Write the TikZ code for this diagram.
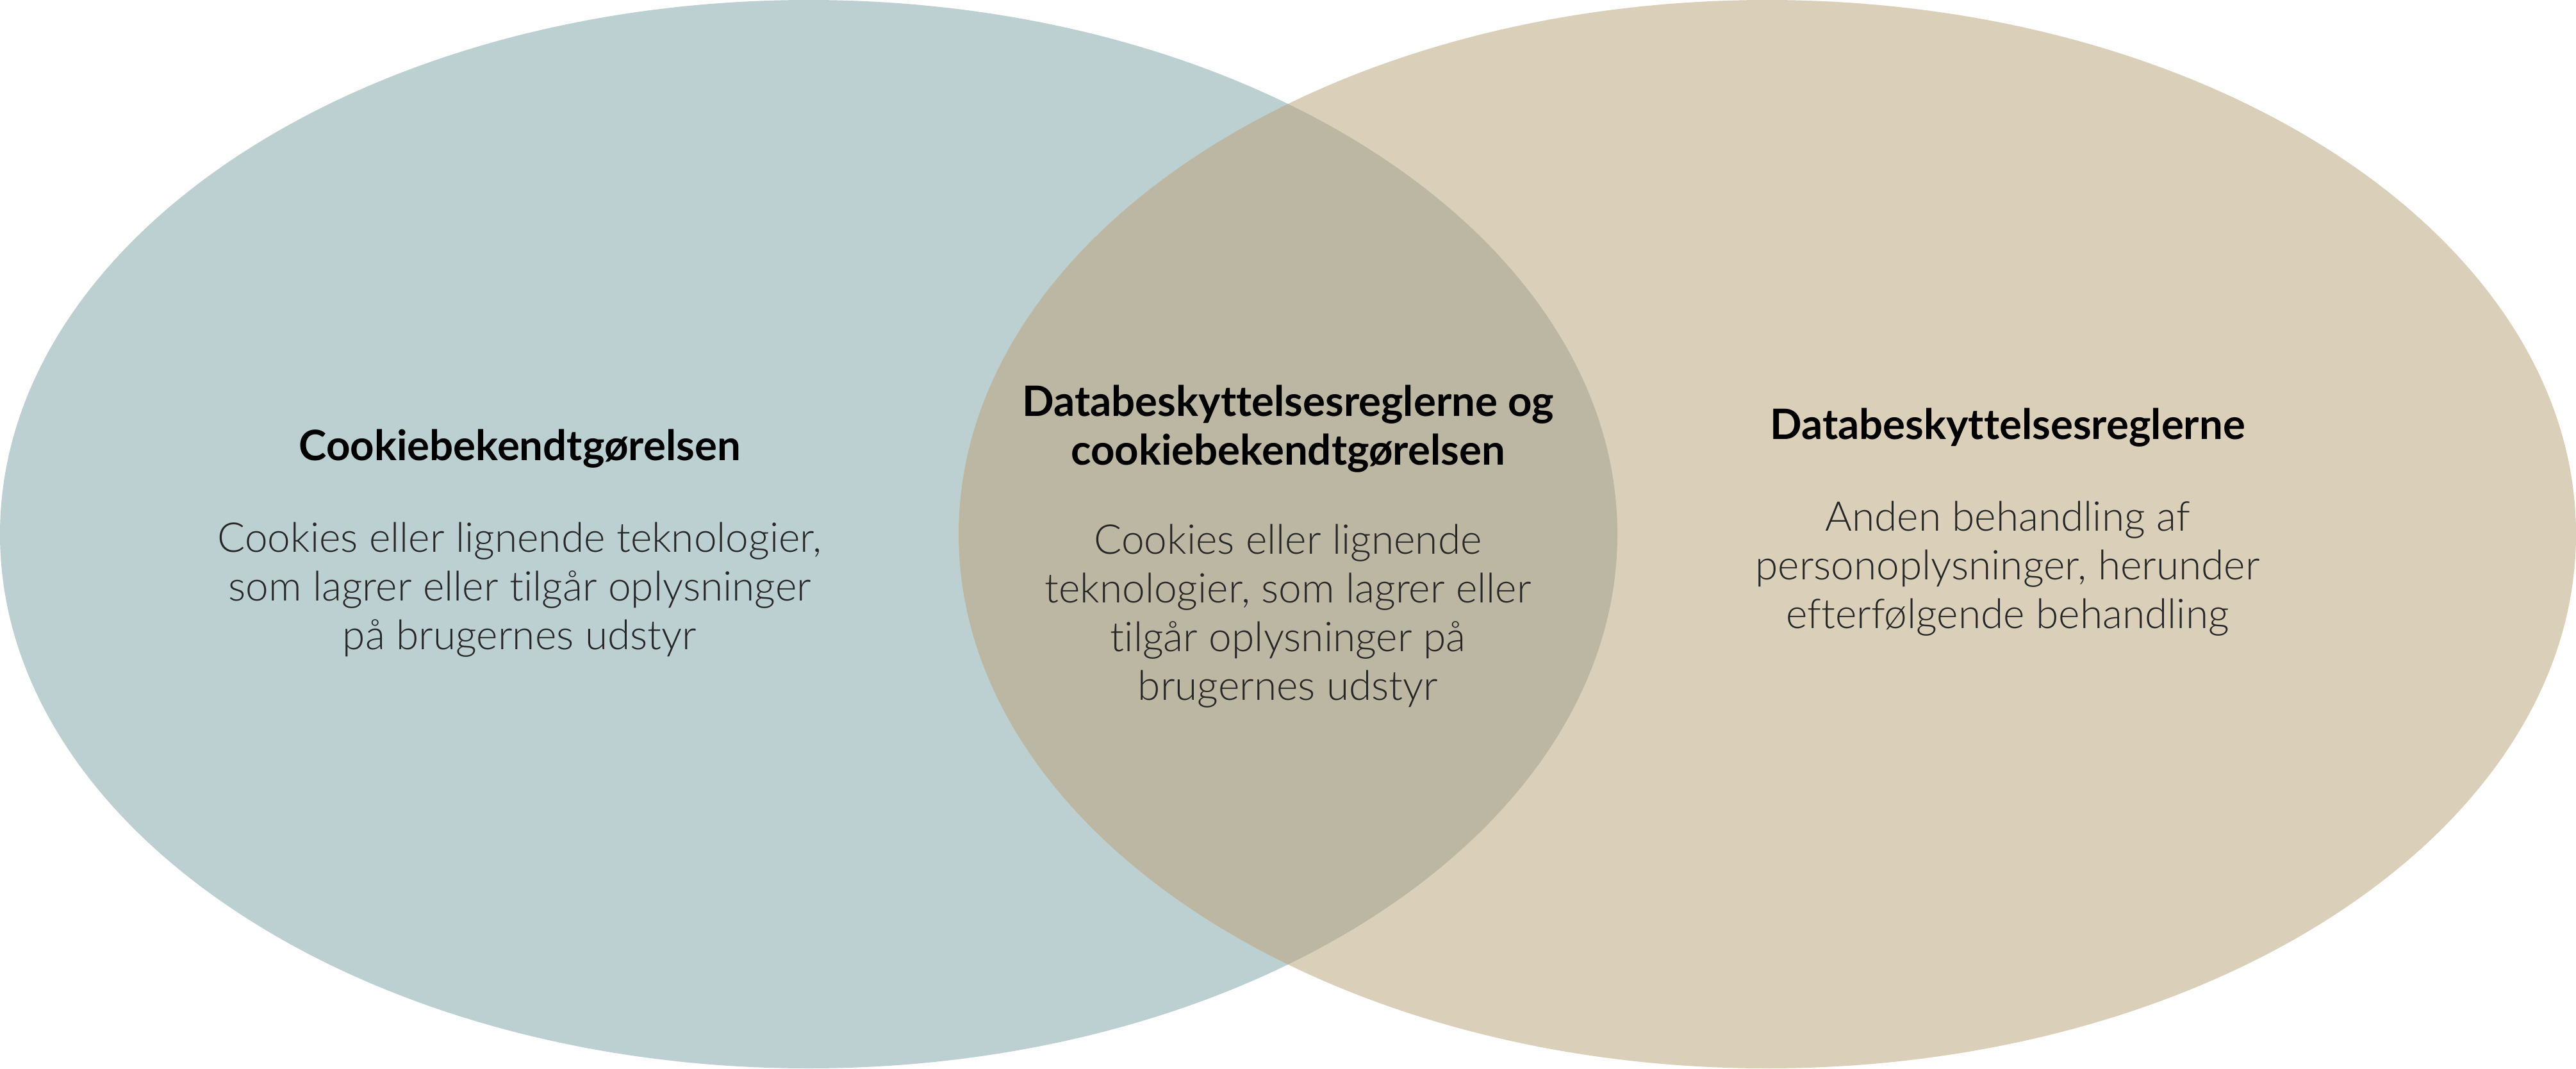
\documentclass[tikz,border=0pt]{standalone}
\usepackage{fontspec}
\IfFontExistsTF{Lato Light}
  {\setmainfont{Lato}[UprightFont={* Light}, BoldFont={* Bold}, Ligatures=NoCommon]}
  {\IfFontExistsTF{Fira Sans Light}
    {\setmainfont{Fira Sans}[UprightFont={* Light}, BoldFont={* Bold}]}
    {\setmainfont{Lato}}}
\definecolor{cookieblue}{HTML}{BCD0D1}
\definecolor{gdprsand}{HTML}{DAD0BA}
\definecolor{overlap}{HTML}{BBB7A2}
\begin{document}
\begin{tikzpicture}
    \tikzstyle{head}=[align=center,font=\bfseries\fontsize{18.6}{21.6}\selectfont]
    \tikzstyle{body}=[align=center,text=black!85,font=\fontsize{18.2}{21.6}\selectfont]
    \useasboundingbox (0,0) rectangle (40.2,16.67);
    % the two sets
    \fill[cookieblue] (12.62,8.335) ellipse [x radius=12.62, y radius=8.335];
    \fill[gdprsand] (27.58,8.335) ellipse [x radius=12.62, y radius=8.335];
    \begin{scope}
      \clip (12.62,8.335) ellipse [x radius=12.62, y radius=8.335];
      \fill[overlap] (27.58,8.335) ellipse [x radius=12.62, y radius=8.335];
    \end{scope}
    % left
    \node[head] (cookie) at (8.11,9.67) {Cookiebekendtgørelsen};
    \node[body] (cookietxt) at (8.11,7.47) {Cookies eller lignende teknologier,\\som lagrer eller tilgår oplysninger\\på brugernes udstyr};
    % middle
    \node[head] (both) at (20.10,9.975) {Databeskyttelsesreglerne og\\cookiebekendtgørelsen};
    \node[body] (bothtxt) at (20.10,7.055) {Cookies eller lignende\\teknologier, som lagrer eller\\tilgår oplysninger på\\brugernes udstyr};
    % right
    \node[head] (gdpr) at (31.33,10.00) {Databeskyttelsesreglerne};
    \node[body] (gdprtxt) at (31.33,7.80) {Anden behandling af\\personoplysninger, herunder\\efterfølgende behandling};
\end{tikzpicture}
\end{document}
